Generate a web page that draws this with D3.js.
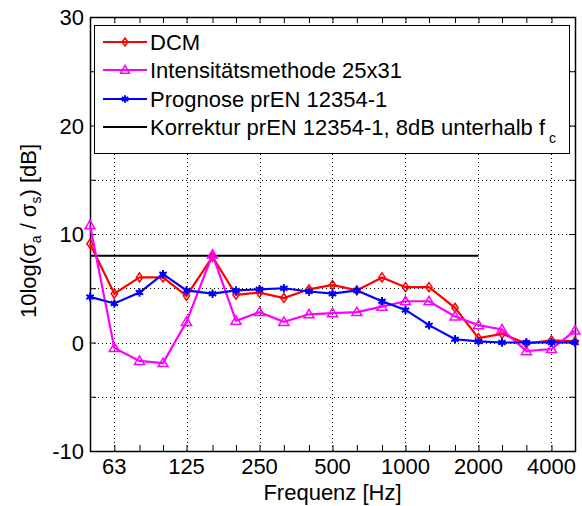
<!DOCTYPE html>
<html>
<head>
<meta charset="utf-8">
<script src="https://cdn.jsdelivr.net/npm/d3@7"></script>
<style>
  body { margin: 0; background: #fff; }
  svg { display: block; font-family: "Liberation Sans", Arial, sans-serif; }
</style>
</head>
<body>
<div class="chart"></div>
<script>
// third-octave band centre frequencies [Hz]
var freqs = [50, 63, 80, 100, 125, 160, 200, 250, 315, 400, 500, 630, 800, 1000, 1250, 1600, 2000, 2500, 3150, 4000, 5000];

var dcm = [9.1, 4.5, 6.0, 6.0, 4.3, 7.9, 4.4, 4.6, 4.1, 4.9, 5.3, 4.8, 6.0, 5.1, 5.1, 3.2, 0.4, 0.8, -0.1, 0.2, 0.1];
var intensitaet = [10.8, -0.5, -1.7, -1.9, 1.9, 8.1, 2.0, 2.8, 1.9, 2.6, 2.7, 2.8, 3.3, 3.8, 3.8, 2.4, 1.6, 1.2, -0.8, -0.6, 1.1];
var prognose = [4.2, 3.6, 4.6, 6.3, 4.8, 4.5, 4.8, 4.9, 5.0, 4.7, 4.5, 4.8, 3.8, 3.0, 1.6, 0.3, 0.1, 0.0, 0.0, 0.0, 0.0];

// Korrektur line: 8 dB below f_c (up to 2000 Hz)
var korrekturFreqs = [50, 2000];
var korrekturValues = [8, 8];

var xTickValues = [63, 125, 250, 500, 1000, 2000, 4000];
var yTickValues = [-10, -5, 0, 5, 10, 15, 20, 25, 30];
var yLabelValues = [-10, 0, 10, 20, 30];

var legendLabels = ["DCM", "Intensitätsmethode 25x31", "Prognose prEN 12354-1", "Korrektur prEN 12354-1, 8dB unterhalb f"];

//////// canvas
var width = 582, height = 506;
var margin = { left: 90, right: 7, top: 17, bottom: 55 };
var fontSize = "22px";

var svg = d3.select(".chart")
    .append("svg")
    .attr("width", width)
    .attr("height", height);

var x = d3.scaleLog()
    .domain([50, 5000])
    .range([margin.left, width - margin.right]);

var y = d3.scaleLinear()
    .domain([-10, 30])
    .range([height - margin.bottom, margin.top]);

var x0 = margin.left, x1 = width - margin.right;
var y0 = height - margin.bottom, y1 = margin.top;

//////// grid (dotted)
var grid = svg.append("g")
    .attr("stroke", "#000")
    .attr("stroke-width", 1)
    .attr("stroke-dasharray", "1,3");

grid.selectAll(".vgrid")
    .data(xTickValues)
    .enter()
    .append("line")
    .attr("x1", function(d) { return Math.round(x(d)) + 0.5; })
    .attr("x2", function(d) { return Math.round(x(d)) + 0.5; })
    .attr("y1", y0)
    .attr("y2", y1);

grid.selectAll(".hgrid")
    .data(yTickValues.filter(function(d) { return d > -10 && d < 30; }))
    .enter()
    .append("line")
    .attr("x1", x0)
    .attr("x2", x1)
    .attr("y1", function(d) { return Math.round(y(d)) + 0.5; })
    .attr("y2", function(d) { return Math.round(y(d)) + 0.5; });

//////// axes
var tickLen = 6;
var minorTicks = freqs.filter(function(f) { return f > 50 && f < 5000; });

var bottomAxis = d3.axisBottom(x).tickValues(minorTicks).tickSize(-tickLen).tickFormat("");
var topAxis = d3.axisTop(x).tickValues(minorTicks).tickSize(-tickLen).tickFormat("");
var leftAxis = d3.axisLeft(y).tickValues(yTickValues).tickSize(-tickLen).tickFormat("");
var rightAxis = d3.axisRight(y).tickValues(yTickValues).tickSize(-tickLen).tickFormat("");

function styleAxis(g) {
    g.select(".domain").remove();
    g.selectAll(".tick line").attr("stroke", "#000").attr("stroke-width", 1);
}

svg.append("g").attr("transform", "translate(0," + y0 + ")").call(bottomAxis).call(styleAxis);
svg.append("g").attr("transform", "translate(0," + y1 + ")").call(topAxis).call(styleAxis);
svg.append("g").attr("transform", "translate(" + x0 + ",0)").call(leftAxis).call(styleAxis);
svg.append("g").attr("transform", "translate(" + x1 + ",0)").call(rightAxis).call(styleAxis);

// box
svg.append("rect")
    .attr("x", x0 + 0.5)
    .attr("y", y1 + 0.5)
    .attr("width", x1 - x0)
    .attr("height", y0 - y1)
    .attr("fill", "none")
    .attr("stroke", "#000")
    .attr("stroke-width", 1.5);

// tick labels
svg.selectAll(".xlab")
    .data(xTickValues)
    .enter()
    .append("text")
    .attr("x", function(d) { return x(d); })
    .attr("y", y0 + 23)
    .attr("text-anchor", "middle")
    .attr("font-size", fontSize)
    .text(function(d) { return d; });

svg.selectAll(".ylab")
    .data(yLabelValues)
    .enter()
    .append("text")
    .attr("x", x0 - 6)
    .attr("y", function(d) { return y(d) + 8; })
    .attr("text-anchor", "end")
    .attr("font-size", fontSize)
    .text(function(d) { return d; });

// axis titles
svg.append("text")
    .attr("x", (x0 + x1) / 2)
    .attr("y", 500)
    .attr("text-anchor", "middle")
    .attr("font-size", fontSize)
    .text("Frequenz [Hz]");

var yTitle = svg.append("text")
    .attr("transform", "translate(36," + 231 + ") rotate(-90)")
    .attr("text-anchor", "middle")
    .attr("font-size", fontSize);
yTitle.append("tspan").text("10log(σ");
yTitle.append("tspan").attr("font-size", "14px").attr("dy", 5).text("a");
yTitle.append("tspan").attr("dy", -5).text(" / σ");
yTitle.append("tspan").attr("font-size", "14px").attr("dy", 5).text("s");
yTitle.append("tspan").attr("dy", -5).text(")  [dB]");

//////// series
var series = [
    { name: legendLabels[0], values: dcm, color: "#ff0000", marker: "diamond" },
    { name: legendLabels[1], values: intensitaet, color: "#ff00ff", marker: "triangle" },
    { name: legendLabels[2], values: prognose, color: "#0000ff", marker: "star" }
];

var line = d3.line()
    .x(function(d) { return x(d[0]); })
    .y(function(d) { return y(d[1]); });

function drawMarker(g, type, color, cx, cy, s) {
    if (type === "diamond") {
        g.append("path")
            .attr("d", "M" + cx + "," + (cy - s) + "L" + (cx + s * 0.7) + "," + cy + "L" + cx + "," + (cy + s) + "L" + (cx - s * 0.7) + "," + cy + "Z")
            .attr("fill", "none").attr("stroke", color).attr("stroke-width", 1.5);
    } else if (type === "triangle") {
        g.append("path")
            .attr("d", "M" + cx + "," + (cy - s) + "L" + (cx + s) + "," + (cy + s * 0.7) + "L" + (cx - s) + "," + (cy + s * 0.7) + "Z")
            .attr("fill", "none").attr("stroke", color).attr("stroke-width", 1.5);
    } else {
        g.append("path")
            .attr("d", d3.symbol().type(d3.symbolAsterisk).size(s * s * 2.5)())
            .attr("transform", "translate(" + cx + "," + cy + ")")
            .attr("fill", "none").attr("stroke", color).attr("stroke-width", 2);
        g.append("circle")
            .attr("cx", cx).attr("cy", cy).attr("r", 2.5)
            .attr("fill", color);
    }
}

// Korrektur line
svg.append("path")
    .datum(d3.zip(korrekturFreqs, korrekturValues))
    .attr("d", line)
    .attr("fill", "none")
    .attr("stroke", "#000")
    .attr("stroke-width", 2);

series.forEach(function(s) {
    var pts = d3.zip(freqs, s.values);
    svg.append("path")
        .datum(pts)
        .attr("d", line)
        .attr("fill", "none")
        .attr("stroke", s.color)
        .attr("stroke-width", 2.2);
    var mg = svg.append("g");
    pts.forEach(function(p) {
        drawMarker(mg, s.marker, s.color, x(p[0]), y(p[1]), s.marker === "triangle" ? 5 : 4.5);
    });
});

//////// legend
var legend = svg.append("g");
legend.append("rect")
    .attr("x", 94.5)
    .attr("y", 25.5)
    .attr("width", 475)
    .attr("height", 128)
    .attr("fill", "#fff")
    .attr("stroke", "#000")
    .attr("stroke-width", 1);

var legendY = [42, 70, 99, 127];
var legendMarkers = ["diamond", "triangle", "star", null];
var legendColors = ["#ff0000", "#ff00ff", "#0000ff", "#000"];

legendLabels.forEach(function(lbl, i) {
    var ly = legendY[i];
    legend.append("line")
        .attr("x1", 103).attr("x2", 147)
        .attr("y1", ly).attr("y2", ly)
        .attr("stroke", legendColors[i])
        .attr("stroke-width", 1.8);
    if (legendMarkers[i]) {
        drawMarker(legend, legendMarkers[i], legendColors[i], 125, ly, legendMarkers[i] === "triangle" ? 4.5 : 4);
    }
    var t = legend.append("text")
        .attr("x", 150)
        .attr("y", ly + 8)
        .attr("font-size", fontSize)
        .text(lbl);
    if (i === 3) {
        t.append("tspan").attr("font-size", "14px").attr("dx", 4).attr("dy", 8).text("c");
    }
});
</script>
</body>
</html>
